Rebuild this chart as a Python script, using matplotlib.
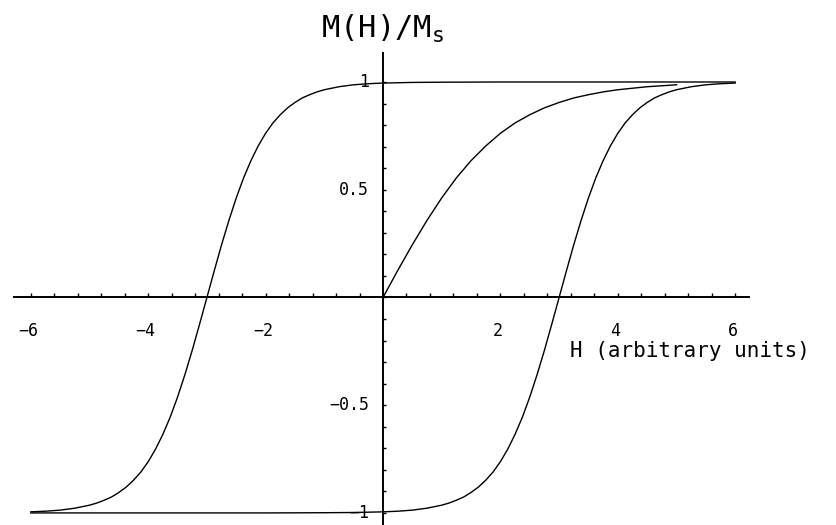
import matplotlib
matplotlib.use("Agg")
import matplotlib.pyplot as plt
import numpy as np

# descending branch of the loop (field swept from +6 down to -6)
h_down = [6.0, 5.0, 4.0, 3.0, 2.0, 1.0, 0.5, 0.0, -0.25, -0.5, -0.75, -1.0,
          -1.125, -1.25, -1.375, -1.5, -1.625, -1.75, -1.875, -2.0, -2.125,
          -2.25, -2.375, -2.5, -2.625, -2.75, -2.875, -3.0, -3.125, -3.25,
          -3.375, -3.5, -3.625, -3.75, -3.875, -4.0, -4.125, -4.25, -4.375,
          -4.5, -4.625, -4.75, -4.875, -5.0, -5.25, -5.5, -5.75, -6.0]
m_down = [1.0, 1.0, 1.0, 1.0, 1.0, 0.999, 0.998, 0.995, 0.992, 0.987, 0.978,
          0.964, 0.954, 0.941, 0.926, 0.905, 0.880, 0.848, 0.810, 0.762, 0.704,
          0.635, 0.555, 0.462, 0.358, 0.245, 0.124, 0.0, -0.124, -0.245, -0.358,
          -0.462, -0.555, -0.635, -0.704, -0.762, -0.810, -0.848, -0.880, -0.905,
          -0.926, -0.941, -0.954, -0.964, -0.978, -0.987, -0.992, -0.995]

# ascending branch (field swept from -6 up to +6)
h_up = [-6.0, -5.0, -4.0, -3.0, -2.0, -1.0, -0.5, 0.0, 0.25, 0.5, 0.75, 1.0,
        1.125, 1.25, 1.375, 1.5, 1.625, 1.75, 1.875, 2.0, 2.125, 2.25, 2.375,
        2.5, 2.625, 2.75, 2.875, 3.0, 3.125, 3.25, 3.375, 3.5, 3.625, 3.75,
        3.875, 4.0, 4.125, 4.25, 4.375, 4.5, 4.625, 4.75, 4.875, 5.0, 5.25,
        5.5, 5.75, 6.0]
m_up = [-1.0, -1.0, -1.0, -1.0, -1.0, -0.999, -0.998, -0.995, -0.992, -0.987,
        -0.978, -0.964, -0.954, -0.941, -0.926, -0.905, -0.880, -0.848, -0.810,
        -0.762, -0.704, -0.635, -0.555, -0.462, -0.358, -0.245, -0.124, 0.0,
        0.124, 0.245, 0.358, 0.462, 0.555, 0.635, 0.704, 0.762, 0.810, 0.848,
        0.880, 0.905, 0.926, 0.941, 0.954, 0.964, 0.978, 0.987, 0.992, 0.995]

# initial magnetization curve from the demagnetized state
h_init = [0.0, 0.25, 0.5, 0.75, 1.0, 1.25, 1.5, 1.75, 2.0, 2.25, 2.5, 2.75,
          3.0, 3.25, 3.5, 3.75, 4.0, 4.5, 5.0]
m_init = [0.0, 0.125, 0.245, 0.358, 0.462, 0.555, 0.635, 0.703, 0.762, 0.810,
          0.848, 0.880, 0.905, 0.926, 0.941, 0.954, 0.964, 0.978, 0.987]

x_ticks = [-6, -4, -2, 2, 4, 6]
x_labels = ["\u22126", "\u22124", "\u22122", "2", "4", "6"]
y_ticks = [1, 0.5, -0.5, -1]
y_labels = ["1", "0.5", "\u22120.5", "\u22121"]

mono = "DejaVu Sans Mono"

fig = plt.figure(figsize=(8.36, 5.25), dpi=100)
ax = fig.add_axes([0, 0, 1, 1])
ax.set_xlim(-6.525, 7.717)
ax.set_ylim(-1.056, 1.3805)

for h, m in [(h_down, m_down), (h_up, m_up), (h_init, m_init)]:
    ax.plot(h, m, color="black", lw=1.0, solid_joinstyle="round")

# axes crossing at the origin
for side in ["top", "right"]:
    ax.spines[side].set_visible(False)
ax.spines["left"].set_position("zero")
ax.spines["bottom"].set_position("zero")
ax.spines["bottom"].set_bounds(-6.29, 6.24)
ax.spines["left"].set_bounds(-1.1, 1.135)
for side in ["left", "bottom"]:
    ax.spines[side].set_linewidth(1.4)

ax.set_xticks(x_ticks)
ax.set_xticks(np.round(np.arange(-6, 6.01, 0.4), 2), minor=True)
ax.set_yticks(y_ticks)
ax.set_yticks(np.round(np.arange(-1, 1.01, 0.1), 2), minor=True)
ax.tick_params(which="both", direction="in", length=3.2, width=1.0,
               labelbottom=False, labelleft=False)
ax.tick_params(axis="y", which="both", length=2.5)

for x, lab in zip(x_ticks, x_labels):
    ax.annotate(lab, xy=(x, 0), xytext=(-2, -18), textcoords="offset points",
                ha="center", va="top", fontsize=12, family=mono)
for y, lab in zip(y_ticks, y_labels):
    ax.annotate(lab, xy=(0, y), xytext=(-10, 0), textcoords="offset points",
                ha="right", va="center", fontsize=12, family=mono)

fig.text(383 / 836, 1 - 38 / 525, r"M(H)/M$_{\mathtt{s}}$", ha="center",
         va="baseline", fontsize=22, family=mono)
fig.text(570 / 836, 1 - 357 / 525, "H (arbitrary units)", ha="left",
         va="baseline", fontsize=15, family=mono)

fig.savefig("out.png", dpi=100)
